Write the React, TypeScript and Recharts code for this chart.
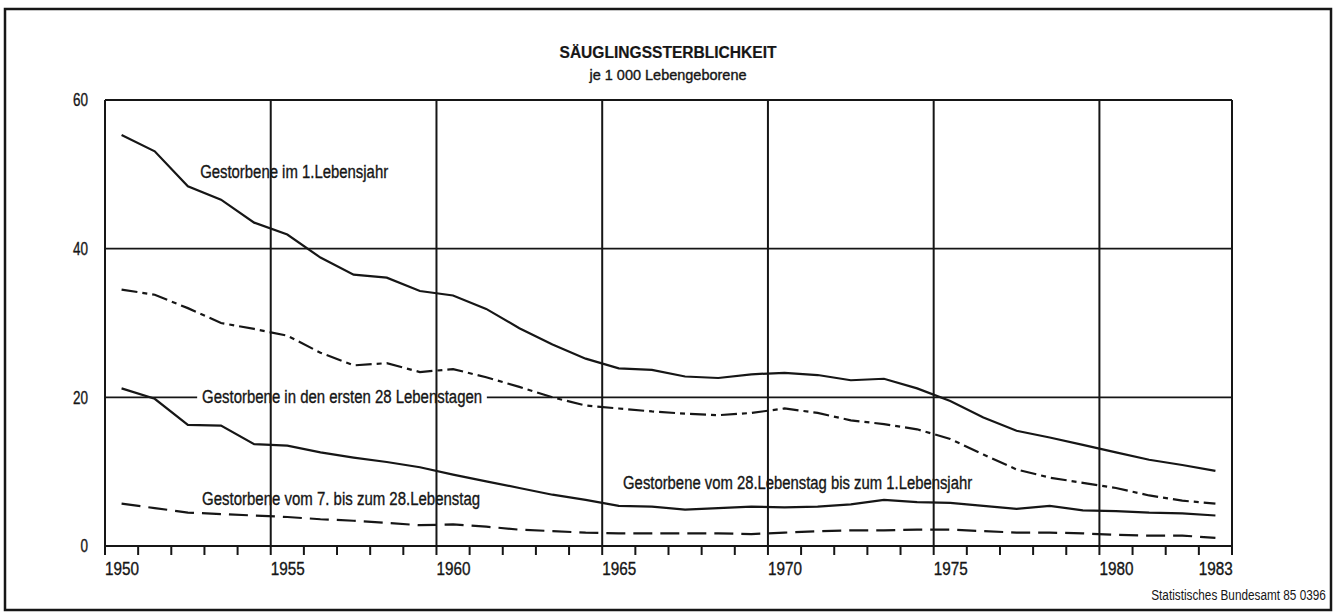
import React from 'react';
import { LineChart, Line, XAxis, YAxis, ReferenceLine, ReferenceDot } from 'recharts';

// Säuglingssterblichkeit je 1 000 Lebendgeborene, Bundesgebiet
const years = [
  1950, 1951, 1952, 1953, 1954, 1955, 1956, 1957, 1958, 1959,
  1960, 1961, 1962, 1963, 1964, 1965, 1966, 1967, 1968, 1969,
  1970, 1971, 1972, 1973, 1974, 1975, 1976, 1977, 1978, 1979,
  1980, 1981, 1982, 1983,
];

// Gestorbene im 1. Lebensjahr
const imErstenLebensjahr = [
  55.3, 53.1, 48.4, 46.6, 43.5, 41.9, 38.8, 36.5, 36.1, 34.3,
  33.7, 31.9, 29.3, 27.1, 25.2, 23.9, 23.7, 22.8, 22.6, 23.1,
  23.3, 23.0, 22.3, 22.5, 21.2, 19.5, 17.3, 15.5, 14.6, 13.6,
  12.6, 11.6, 10.9, 10.1,
];

// Gestorbene in den ersten 28 Lebenstagen
const ersteLebenstage = [
  34.5, 33.8, 32.0, 30.0, 29.2, 28.3, 26.0, 24.3, 24.6, 23.4,
  23.8, 22.7, 21.4, 20.0, 18.9, 18.5, 18.1, 17.8, 17.6, 17.9,
  18.5, 17.9, 16.9, 16.4, 15.7, 14.4, 12.3, 10.3, 9.2, 8.5,
  7.8, 6.8, 6.1, 5.7,
];

// Gestorbene vom 28. Lebenstag bis zum 1. Lebensjahr
const vom28TagBis1Jahr = [
  21.2, 19.8, 16.3, 16.2, 13.7, 13.5, 12.6, 11.9, 11.3, 10.6,
  9.6, 8.7, 7.8, 6.9, 6.2, 5.4, 5.3, 4.9, 5.1, 5.3,
  5.2, 5.3, 5.6, 6.2, 5.9, 5.8, 5.4, 5.0, 5.4, 4.8,
  4.7, 4.5, 4.4, 4.1,
];

// Gestorbene vom 7. bis zum 28. Lebenstag
const vom7Bis28Tag = [
  5.7, 5.1, 4.5, 4.3, 4.1, 3.9, 3.6, 3.4, 3.1, 2.8,
  2.9, 2.6, 2.2, 2.0, 1.8, 1.7, 1.7, 1.7, 1.7, 1.6,
  1.8, 2.0, 2.1, 2.1, 2.2, 2.2, 2.0, 1.8, 1.8, 1.7,
  1.5, 1.4, 1.4, 1.1,
];

const tickYears = [
  1950, 1951, 1952, 1953, 1954, 1955, 1956, 1957, 1958, 1959,
  1960, 1961, 1962, 1963, 1964, 1965, 1966, 1967, 1968, 1969,
  1970, 1971, 1972, 1973, 1974, 1975, 1976, 1977, 1978, 1979,
  1980, 1981, 1982, 1983, 1984,
];
const labelYears = [1950, 1955, 1960, 1965, 1970, 1975, 1980, 1983];
const gridYears = [1955, 1960, 1965, 1970, 1975, 1980];
const yTicks = [0, 20, 40, 60];

// values are yearly figures, drawn in the middle of each year
const data = years.map((year, i) => ({
  x: year + 0.5,
  jahr: imErstenLebensjahr[i],
  tage28: ersteLebenstage[i],
  nach28: vom28TagBis1Jahr[i],
  tag7bis28: vom7Bis28Tag[i],
}));

const FONT = "'Liberation Sans', Arial, sans-serif";
const INK = '#161616';

function CondText({ x, y, width, size, anchor = 'start', weight = 'normal', children }: any) {
  return (
    <text
      x={x}
      y={y}
      dy="0.35em"
      fontSize={size}
      fontFamily={FONT}
      fontWeight={weight}
      fill={INK}
      stroke={INK}
      strokeWidth={weight === 'bold' ? 0.2 : 0.35}
      textAnchor={anchor}
      textLength={width}
      lengthAdjust="spacingAndGlyphs"
    >
      {children}
    </text>
  );
}

const XTick = (props: any) => {
  const { x, y, payload } = props;
  const year = payload.value;
  return (
    <g>
      <line x1={x} y1={y} x2={x} y2={y + 9} stroke={INK} strokeWidth={2} />
      {labelYears.includes(year) && (
        <CondText x={x} y={y + 23} width={34} size={18}>
          {year}
        </CondText>
      )}
    </g>
  );
};

const YTickLeft = ({ x, y, payload }: any) => (
  <CondText x={x} y={y} width={String(payload.value).length * 7.5} size={18} anchor="end">
    {payload.value}
  </CondText>
);

const YTickRight = ({ x, y, payload }: any) => (
  <CondText x={x} y={y + 3} width={String(payload.value).length * 7} size={18}>
    {payload.value}
  </CondText>
);

const note = (text: string, width: number) => (p: any) => (
  <CondText x={p.cx} y={p.cy} width={width} size={18}>
    {text}
  </CondText>
);

const lineProps = {
  type: 'linear' as const,
  dot: false,
  stroke: INK,
  strokeWidth: 2.2,
  isAnimationActive: false,
};

export default function App() {
  return (
    <div style={{ position: 'absolute', left: 0, top: 0, width: 1338, height: 612, background: '#fff' }}>
      <LineChart
        width={1338}
        height={612}
        data={data}
        margin={{ top: 100, right: 66, bottom: 26, left: 65 }}
      >
        <XAxis
          dataKey="x"
          type="number"
          domain={[1950, 1984]}
          ticks={tickYears}
          interval={0}
          height={40}
          tickSize={0}
          tickMargin={0}
          tickLine={false}
          axisLine={{ stroke: INK, strokeWidth: 2 }}
          tick={<XTick />}
        />
        <YAxis
          domain={[0, 60]}
          ticks={yTicks}
          width={40}
          tickSize={0}
          tickMargin={17}
          tickLine={false}
          axisLine={{ stroke: INK, strokeWidth: 2 }}
          tick={<YTickLeft />}
        />
        <YAxis
          yAxisId="right"
          orientation="right"
          domain={[0, 60]}
          ticks={yTicks}
          width={40}
          tickSize={0}
          tickMargin={18}
          tickLine={false}
          axisLine={{ stroke: INK, strokeWidth: 2 }}
          tick={<YTickRight />}
        />

        <ReferenceLine y={60} stroke={INK} strokeWidth={2} />
        <ReferenceLine y={40} stroke={INK} strokeWidth={1.8} />
        <ReferenceLine
          segment={[{ x: 1950, y: 20 }, { x: 1952.78, y: 20 }]}
          stroke={INK}
          strokeWidth={1.8}
        />
        <ReferenceLine
          segment={[{ x: 1961.52, y: 20 }, { x: 1984, y: 20 }]}
          stroke={INK}
          strokeWidth={1.8}
        />
        {gridYears.map((yr) => (
          <ReferenceLine key={yr} x={yr} stroke={INK} strokeWidth={2} />
        ))}

        <Line dataKey="jahr" {...lineProps} />
        <Line dataKey="tage28" {...lineProps} strokeDasharray="16 5 5 5" />
        <Line dataKey="nach28" {...lineProps} />
        <Line dataKey="tag7bis28" {...lineProps} strokeDasharray="19 8" />

        <ReferenceDot x={1952.87} y={50.3} r={0} shape={note('Gestorbene im 1.Lebensjahr', 188)} />
        <ReferenceDot x={1952.93} y={20.1} r={0} shape={note('Gestorbene in den ersten 28 Lebenstagen', 280)} />
        <ReferenceDot x={1952.93} y={6.3} r={0} shape={note('Gestorbene vom 7. bis zum 28.Lebenstag', 278)} />
        <ReferenceDot x={1965.63} y={8.5} r={0} shape={note('Gestorbene vom 28.Lebenstag bis zum 1.Lebensjahr', 349)} />
      </LineChart>

      <svg
        width={1338}
        height={612}
        style={{ position: 'absolute', left: 0, top: 0, pointerEvents: 'none' }}
      >
        <rect x={5} y={9} width={1326} height={601} fill="none" stroke={INK} strokeWidth={2.5} />
        <CondText x={668} y={52} width={217} size={16} anchor="middle" weight="bold">
          SÄUGLINGSSTERBLICHKEIT
        </CondText>
        <CondText x={668} y={75} width={157} size={14} anchor="middle">
          je 1 000 Lebengeborene
        </CondText>
      </svg>

      <div
        style={{
          position: 'absolute',
          right: 12,
          top: 587,
          fontFamily: FONT,
          fontSize: 14,
          lineHeight: '16px',
          color: INK,
          whiteSpace: 'nowrap',
          transform: 'scaleX(0.84)',
          transformOrigin: 'right center',
        }}
      >
        Statistisches Bundesamt 85 0396
      </div>
    </div>
  );
}
